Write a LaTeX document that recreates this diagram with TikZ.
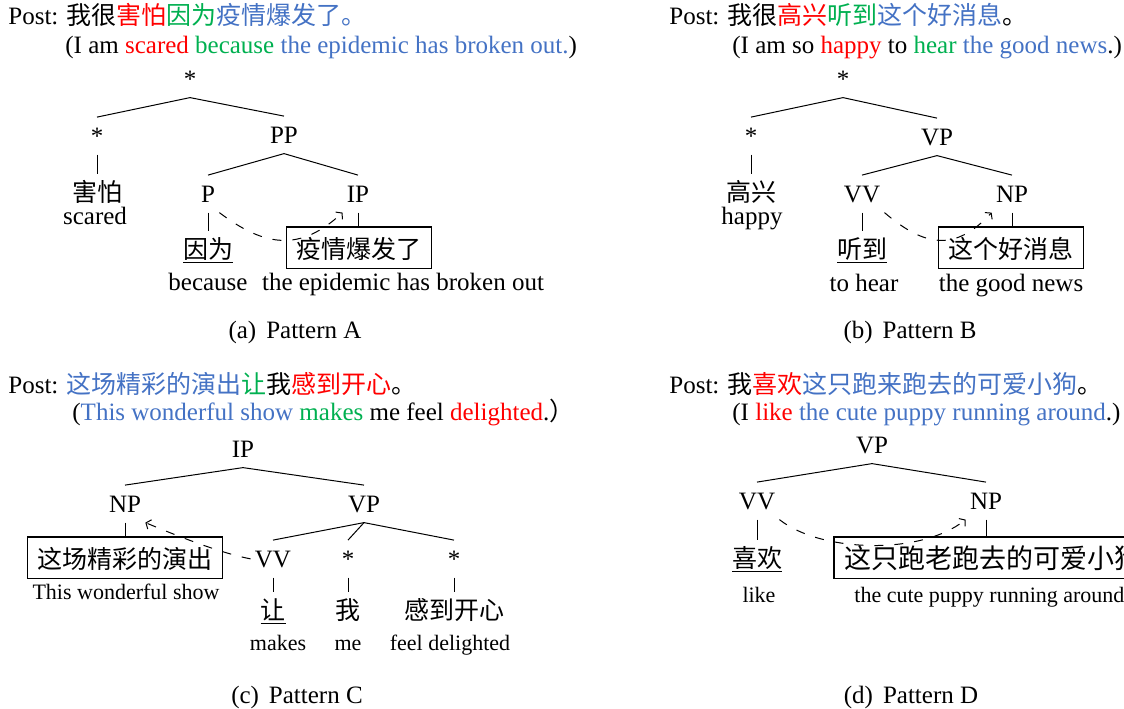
\documentclass[tikz,border=0pt]{standalone}
\usepackage{fontspec}
\setmainfont{Liberation Serif}
\newfontfamily\cjk{Noto Sans CJK SC}
\usetikzlibrary{arrows.meta}
\definecolor{myred}{RGB}{255,0,0}
\definecolor{mygreen}{RGB}{0,176,80}
\definecolor{myblue}{RGB}{68,114,196}
\newcommand\cred[1]{\textcolor{myred}{#1}}
\newcommand\cgreen[1]{\textcolor{mygreen}{#1}}
\newcommand\cblue[1]{\textcolor{myblue}{#1}}
\begin{document}
\begin{tikzpicture}[x=0.5pt,y=-0.5pt,
  font=\fontsize{12.5}{15}\selectfont,
  lab/.style={anchor=base,inner sep=2pt,text height=11.25pt,text depth=3.1pt},
  sm/.style={lab,font=\fontsize{11}{13}\selectfont},
  wbox/.style={anchor=base,draw,line width=0.6pt,inner xsep=5pt,inner ysep=2pt,
    text height=13.5pt,text depth=3.1pt,font=\fontsize{12.5}{15}\selectfont\cjk},
  hdr/.style={anchor=base west,inner sep=0pt},
  tline/.style={line width=0.5pt},
  dep/.style={line width=0.5pt,dash pattern=on 4.5pt off 5.5pt,
    -{Straight Barb[length=2pt,width=5pt]}},
]
\useasboundingbox (0,0) rectangle (1124,708);

% ---------- Panel A ----------
\node[hdr] (ha) at (8,24) {Post: {\cjk 我很\cred{害怕}\cgreen{因为}\cblue{疫情爆发了。}}};
\node[hdr] (hae) at (65,53) {(I am \cred{scared} \cgreen{because} \cblue{the epidemic has broken out.})};
\node[lab] (a0) at (190,87) {*};
\node[lab] (a1) at (97,144) {*};
\node[lab] (a2) at (284,143) {PP};
\node[lab] (a3) at (97,201) {\cjk 害怕};
\node[lab] (a4) at (95,224) {scared};
\node[lab] (a5) at (208,202) {P};
\node[lab] (a6) at (358,202) {IP};
\node[lab] (a7) at (208,258) {\underline{\cjk 因为}};
\node[wbox] (a8) at (359,258) {疫情爆发了};
\node[lab] (a9) at (208,290) {because};
\node[lab] (a10) at (403,290) {the epidemic has broken out};
\node[lab] (acap) at (295,338) {(a)\hspace{0.4em}Pattern A};
\draw[tline] (a0.south) -- (a1.north);
\draw[tline] (a0.south) -- (a2.north);
\draw[tline] (a1.south) -- (a1.south |- a3.north);
\draw[tline] (a2.south) -- (a5.north);
\draw[tline] (a2.south) -- (a6.north);
\draw[tline] (a5.south) -- (a5.south |- a7.north);
\draw[tline] (a6.south) -- (a6.south |- a8.north);
\draw[dep] (a5.south east) .. controls (265,247) and (300,252) .. (a6.south west);

% ---------- Panel B ----------
\node[hdr] (hb) at (669,24) {Post: {\cjk 我很\cred{高兴}\cgreen{听到}\cblue{这个好消息}。}};
\node[hdr] (hbe) at (732,53) {(I am so \cred{happy} to \cgreen{hear} \cblue{the good news}.)};
\node[lab] (b0) at (843,87) {*};
\node[lab] (b1) at (751,144) {*};
\node[lab] (b2) at (937,145) {VP};
\node[lab] (b3) at (751,201) {\cjk 高兴};
\node[lab] (b4) at (752,224) {happy};
\node[lab] (b5) at (862,202) {VV};
\node[lab] (b6) at (1012,202) {NP};
\node[lab] (b7) at (862,258) {\underline{\cjk 听到}};
\node[wbox] (b8) at (1011,258) {这个好消息};
\node[lab] (b9) at (864,291) {to hear};
\node[lab] (b10) at (1011,291) {the good news};
\node[lab] (bcap) at (910,338) {(b)\hspace{0.4em}Pattern B};
\draw[tline] (b0.south) -- (b1.north);
\draw[tline] (b0.south) -- (b2.north);
\draw[tline] (b1.south) -- (b1.south |- b3.north);
\draw[tline] (b2.south) -- (b5.north);
\draw[tline] (b2.south) -- (b6.north);
\draw[tline] (b5.south) -- (b5.south |- b7.north);
\draw[tline] (b6.south) -- (b6.south |- b8.north);
\draw[dep] (b5.south east) .. controls (925,247) and (955,252) .. (b6.south west);

% ---------- Panel C ----------
\node[hdr] (hc) at (8,393) {Post: {\cjk \cblue{这场精彩的演出}\cgreen{让}我\cred{感到开心}。}};
\node[hdr] (hce) at (72,420) {(\cblue{This wonderful show} \cgreen{makes} me feel \cred{delighted}.{\cjk ）}};
\node[lab] (c0) at (243,457) {IP};
\node[lab] (c1) at (125,512) {NP};
\node[lab] (c2) at (364,512) {VP};
\node[wbox] (c3) at (125,568) {这场精彩的演出};
\node[sm] (c4) at (126,599) {This wonderful show};
\node[lab] (c5) at (273,567) {VV};
\node[lab] (c6) at (348,567) {*};
\node[lab] (c7) at (454,567) {*};
\node[lab] (c8) at (273,619) {\underline{\cjk 让}};
\node[lab] (c9) at (348,619) {\cjk 我};
\node[lab] (c10) at (454,619) {\cjk 感到开心};
\node[sm] (c11) at (278,650) {makes};
\node[sm] (c12) at (348,650) {me};
\node[sm] (c13) at (450,650) {feel delighted};
\node[lab] (ccap) at (297,703) {(c)\hspace{0.4em}Pattern C};
\draw[tline] (c0.south) -- (c1.north);
\draw[tline] (c0.south) -- (c2.north);
\draw[tline] (c1.south) -- (c1.south |- c3.north);
\draw[tline] (c2.south) -- (c5.north);
\draw[tline] (c2.south) -- (c6.north);
\draw[tline] (c2.south) -- (c7.north);
\draw[tline] (c5.south) -- (c5.south |- c8.north);
\draw[tline] (c6.south) -- (c6.south |- c9.north);
\draw[tline] (c7.south) -- (c7.south |- c10.north);
\draw[dep] (c5.west) .. controls (220,553) and (175,535) .. (c1.south east);

% ---------- Panel D ----------
\node[hdr] (hd) at (669,393) {Post: {\cjk 我\cred{喜欢}\cblue{这只跑来跑去的可爱小狗}。}};
\node[hdr] (hde) at (732,420) {(I \cred{like} \cblue{the cute puppy running around}.)};
\node[lab] (d0) at (872,453) {VP};
\node[lab] (d1) at (757,509) {VV};
\node[lab] (d2) at (986,509) {NP};
\node[lab] (d3) at (757,567) {\underline{\cjk 喜欢}};
\node[wbox,font=\fontsize{13.5}{16}\selectfont\cjk] (d4) at (992.5,568) {这只跑老跑去的可爱小狗};
\node[sm] (d5) at (759,602) {like};
\node[sm,anchor=base west,inner xsep=0pt] (d6) at (854,602) {the cute puppy running around};
\node[lab] (dcap) at (911,703) {(d)\hspace{0.4em}Pattern D};
\draw[tline] (d0.south) -- (d1.north);
\draw[tline] (d0.south) -- (d2.north);
\draw[tline] (d1.south) -- (d1.south |- d3.north);
\draw[tline] (d2.south) -- (d2.south |- d4.north);
\draw[dep] (d1.south east) .. controls (820,552) and (920,556) .. (d2.south west);
\end{tikzpicture}
\end{document}
